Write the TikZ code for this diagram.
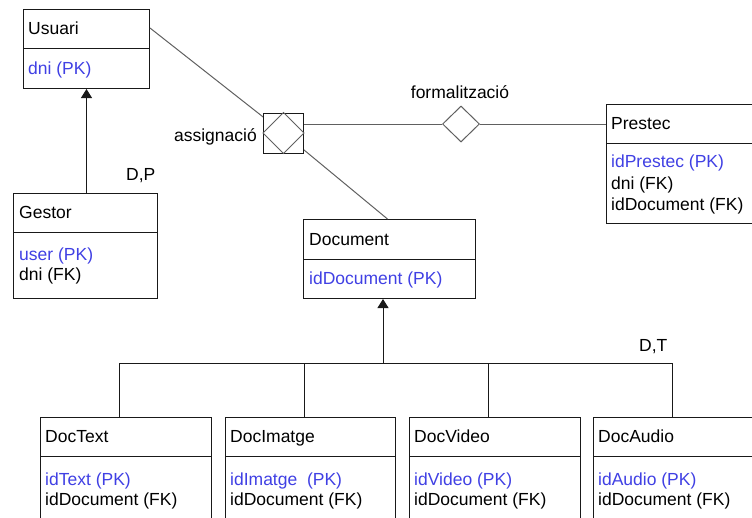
\documentclass[tikz,border=0pt]{standalone}
\usepackage{fontspec}
\setmainfont{Liberation Sans}
\usetikzlibrary{arrows.meta,calc,shapes.geometric}
\definecolor{pkblue}{RGB}{64,64,228}
\definecolor{lnk}{RGB}{96,96,96}
\definecolor{edge}{RGB}{25,25,25}
\begin{document}
\begin{tikzpicture}[x=1pt,y=-1pt,
  font=\fontsize{17.5}{20}\selectfont,
  ent/.style={draw=edge, line width=1pt, fill=white, rectangle, inner sep=0pt, anchor=north west},
  div/.style={draw=edge, line width=1pt},
  ttl/.style={anchor=base west, inner sep=0pt, text=black},
  pk/.style={anchor=base west, inner sep=0pt, text=pkblue},
  att/.style={anchor=base west, inner sep=0pt, text=black},
  lbl/.style={inner sep=0pt, text=black},
  rel/.style={draw=lnk, line width=1pt},
  isa/.style={draw=edge, line width=1pt},
  isaarrow/.style={draw=edge, line width=1pt, -{Triangle[width=11pt,length=9pt]}}
]
\useasboundingbox (0,0) rectangle (752,517);
\clip (0,0) rectangle (752,517);

% ---------- entity boxes ----------
\node[ent, minimum width=126pt, minimum height=79pt] (usuari) at (23,9) {};
\draw[div] (23,48) -- (149,48);
\node[ttl] (usuariT) at (28,34.3) {Usuari};
\node[pk] (usuariA) at (28,74) {dni (PK)};

\node[ent, minimum width=144pt, minimum height=105pt] (gestor) at (13,193) {};
\draw[div] (13,232) -- (157,232);
\node[ttl] (gestorT) at (19,218.3) {Gestor};
\node[pk] (gestorA) at (19,260.7) {user (PK)};
\node[att] (gestorB) at (19,280.7) {dni (FK)};

\node[ent, minimum width=172pt, minimum height=79pt] (document) at (303,219) {};
\draw[div] (303,259) -- (475,259);
\node[ttl] (documentT) at (309,245) {Document};
\node[pk] (documentA) at (309,284.3) {idDocument (PK)};

\node[ent, minimum width=160pt, minimum height=119pt] (prestec) at (606,104) {};
\draw[div] (606,143) -- (766,143);
\node[ttl] (prestecT) at (611,129.3) {Prestec};
\node[pk] (prestecA) at (611,167.3) {idPrestec (PK)};
\node[att] (prestecB) at (611,189.3) {dni (FK)};
\node[att] (prestecC) at (611,210.7) {idDocument (FK)};

\node[ent, minimum width=171pt, minimum height=130pt] (doctext) at (40,417) {};
\draw[div] (40,456) -- (211,456);
\node[ttl] (doctextT) at (45,442) {DocText};
\node[pk] (doctextA) at (45,485) {idText (PK)};
\node[att] (doctextB) at (45,505) {idDocument (FK)};

\node[ent, minimum width=170pt, minimum height=130pt] (docimatge) at (225,417) {};
\draw[div] (225,456) -- (395,456);
\node[ttl] (docimatgeT) at (230,442) {DocImatge};
\node[pk] (docimatgeA) at (230,485) {idImatge\ \ (PK)};
\node[att] (docimatgeB) at (230,505) {idDocument (FK)};

\node[ent, minimum width=171pt, minimum height=130pt] (docvideo) at (409,417) {};
\draw[div] (409,456) -- (580,456);
\node[ttl] (docvideoT) at (414,442) {DocVideo};
\node[pk] (docvideoA) at (414,485) {idVideo (PK)};
\node[att] (docvideoB) at (414,505) {idDocument (FK)};

\node[ent, minimum width=171pt, minimum height=130pt] (docaudio) at (593,417) {};
\draw[div] (593,456) -- (764,456);
\node[ttl] (docaudioT) at (598,442) {DocAudio};
\node[pk] (docaudioA) at (598,485) {idAudio (PK)};
\node[att] (docaudioB) at (598,505) {idDocument (FK)};

% ---------- relationship assignació ----------
\draw[rel] ([yshift=-19pt]usuari.north east) -- (283.5,133) -- ([xshift=-2pt]document.north);
\node[draw=edge, line width=1pt, fill=white, minimum size=40pt, inner sep=0pt] (assign) at (283.5,133) {};
\draw[rel] (assign.north) -- (assign.east) -- (assign.south) -- (assign.west) -- cycle;
\node[lbl, anchor=base east] (assignL) at (257,141) {assignació};

% ---------- relationship formalització ----------
\node[diamond, draw=lnk, line width=1pt, fill=white, minimum width=37pt, minimum height=36pt, inner sep=0pt, aspect=1] (form) at (461,124) {};
\draw[rel] (assign.east |- form.west) -- (form.west);
\draw[rel] (form.east) -- (form.east -| prestec.west);
\node[lbl, anchor=base] (formL) at (460,98.3) {formalització};

% ---------- generalisation Usuari ----------
\draw[isaarrow] (usuari.south |- gestor.north) -- (usuari.south);
\node[lbl, anchor=base west] (dp) at (126,180) {D,P};

% ---------- generalisation Document ----------
\coordinate (bar) at (383,363);
\draw[isaarrow] (bar) -- (bar |- document.south);
\draw[isa] ([xshift=-6.5pt]doctext.north) |- (bar);
\draw[isa] ([xshift=-6.5pt]docimatge.north) |- (bar);
\draw[isa] ([xshift=-6.5pt]docvideo.north) |- (bar);
\draw[isa] ([xshift=-6.5pt]docaudio.north) |- (bar);
\node[lbl, anchor=base west] (dt) at (639,351.7) {D,T};
\end{tikzpicture}
\end{document}
